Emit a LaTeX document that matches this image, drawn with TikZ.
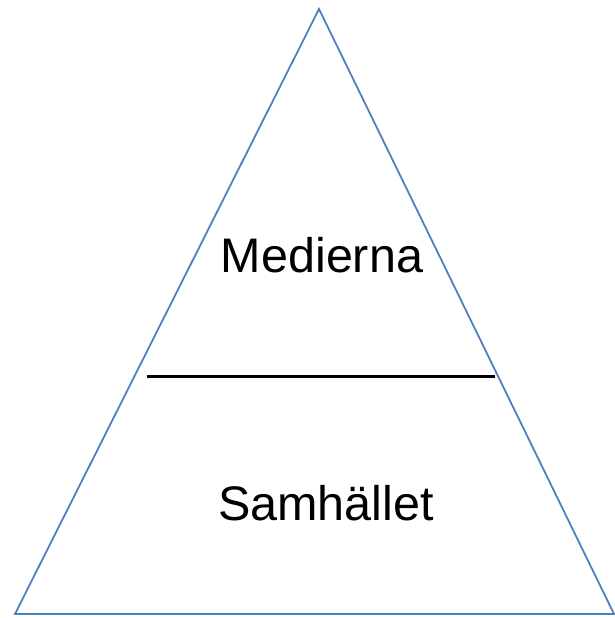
\documentclass[tikz,border=0pt]{standalone}
\usepackage{fontspec}
\setmainfont{Liberation Sans}
\definecolor{triblue}{RGB}{79,129,189}
\begin{document}
\begin{tikzpicture}[x=1pt,y=-1pt,
  tri/.style={draw=triblue,line width=1.8pt,line join=miter},
  divider/.style={draw=black,line width=3pt},
  lbl/.style={font=\fontsize{48.5}{58}\selectfont,inner sep=0pt}]
\useasboundingbox (0,0) rectangle (614,618);
\coordinate (apex) at (319,9);
\coordinate (bl) at (15,614);
\coordinate (br) at (614,614);
\draw[tri] (apex) -- (bl) -- (br) -- cycle;
\coordinate (dl) at (147,376);
\coordinate (dr) at (495,376);
\draw[divider] (dl) -- (dr);
\node[lbl,anchor=base] (med) at (322,272) {Medierna};
\node[lbl,anchor=base] (sam) at (326,520) {Samhället};
\end{tikzpicture}
\end{document}
